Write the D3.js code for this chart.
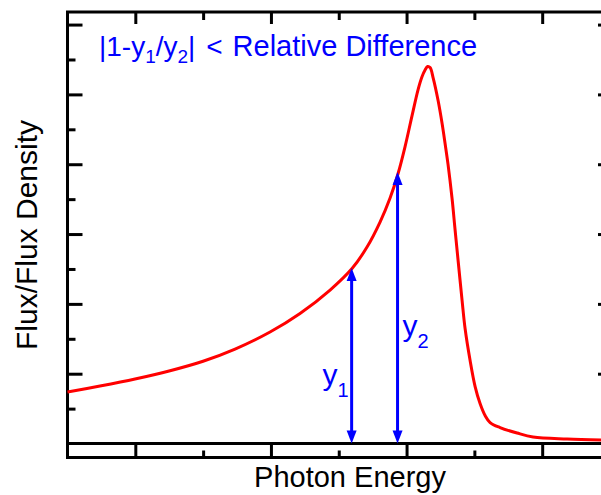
<!DOCTYPE html>
<html>
<head>
<meta charset="utf-8">
<script src="https://cdn.jsdelivr.net/npm/d3@7/dist/d3.min.js"></script>
<style>
    body { margin: 0; background: #fff; }
    svg { display: block; font-family: "Liberation Sans", Arial, sans-serif; }
    .tick line { stroke: #000; stroke-width: 3; }
</style>
</head>
<body>
<div id="chart"></div>
<script>
// red curve (energy in minor-tick units, flux in major-tick units)
const energy = [0.000, 0.479, 0.996, 1.512, 1.999, 2.471, 2.987, 3.429, 3.872, 4.196, 4.417, 4.609,
    4.757, 4.875, 4.978, 5.081, 5.170, 5.229, 5.273, 5.310, 5.347, 5.391, 5.465, 5.524, 5.568, 5.612,
    5.671, 5.715, 5.760, 5.819, 5.863, 5.937, 6.011, 6.084, 6.158, 6.232, 6.379, 6.630, 6.866, 7.367, 7.869];
const flux = [0.738, 0.823, 0.924, 1.043, 1.179, 1.353, 1.597, 1.862, 2.198, 2.506, 2.814, 3.172,
    3.516, 3.867, 4.253, 4.697, 5.069, 5.256, 5.349, 5.399, 5.384, 5.241, 4.912, 4.583, 4.296, 3.995,
    3.509, 3.065, 2.621, 2.048, 1.647, 1.189, 0.816, 0.573, 0.401, 0.301, 0.229, 0.150, 0.093, 0.064, 0.050];

// the two double arrows y1 and y2
const arrowNames = ['1', '2'];
const arrowX = [4.19, 4.867];
const arrowTop = [2.513, 3.888];
const labelX = [3.76, 4.94];
const labelY = [0.84, 1.54];

// tick positions (no tick labels in the original)
const xMajorTicks = [1, 3, 5, 7];
const xMinorTicks = [2, 4, 6];
const yMajorTicks = [1, 2, 3, 4, 5, 6];
const yMinorTicks = [0.5, 1.5, 2.5, 3.5, 4.5, 5.5];

let width = 601,
    height = 495,
    margin = {top: 12, left: 67.5, right: -9, bottom: 37.5},
    xLabelText = 'Photon Energy',
    yLabelText = 'Flux/Flux Density';

let xScale = d3.scaleLinear()
        .domain([0, 8])
        .range([margin.left, width - margin.right]),
    yScale = d3.scaleLinear()
        .domain([-0.2, 6.18])
        .range([height - margin.bottom, margin.top]),
    svg = d3.select('#chart')
        .append('svg')
        .attr('width', width)
        .attr('height', height);

let x0 = xScale.range()[0], x1 = xScale.range()[1],
    yBottom = yScale.range()[0], yTop = yScale.range()[1];

// helper: ticks only, no domain line and no text
function ticks(axis, values, size) {
    return g => {
        g.call(axis.tickValues(values).tickSize(size).tickFormat(''));
        g.select('.domain').remove();
    };
}

// bottom ticks stand up from the frame, majors reach the zero line
svg.append('g').attr('transform', `translate(0,${yBottom})`)
    .call(ticks(d3.axisTop(xScale), xMajorTicks, yBottom - yScale(0)));
svg.append('g').attr('transform', `translate(0,${yBottom})`)
    .call(ticks(d3.axisTop(xScale), xMinorTicks, 7));

// top ticks
svg.append('g').attr('transform', `translate(0,${yTop})`)
    .call(ticks(d3.axisBottom(xScale), xMajorTicks, 12));
svg.append('g').attr('transform', `translate(0,${yTop})`)
    .call(ticks(d3.axisBottom(xScale), xMinorTicks, 8));

// left ticks
svg.append('g').attr('transform', `translate(${x0},0)`)
    .call(ticks(d3.axisRight(yScale), yMajorTicks, 15));
svg.append('g').attr('transform', `translate(${x0},0)`)
    .call(ticks(d3.axisRight(yScale), yMinorTicks, 8));

// right ticks (frame runs off the picture)
svg.append('g').attr('transform', `translate(${x1},0)`)
    .call(ticks(d3.axisLeft(yScale), yMajorTicks, 12));
svg.append('g').attr('transform', `translate(${x1},0)`)
    .call(ticks(d3.axisLeft(yScale), yMinorTicks, 8));

// frame
svg.append('rect')
    .attr('x', x0).attr('y', yTop)
    .attr('width', x1 - x0).attr('height', yBottom - yTop)
    .attr('fill', 'none').attr('stroke', '#000').attr('stroke-width', 3);

// zero line
svg.append('line')
    .attr('x1', x0).attr('x2', x1)
    .attr('y1', yScale(0)).attr('y2', yScale(0))
    .attr('stroke', '#000').attr('stroke-width', 3);

// curve
let line = d3.line()
    .x(i => xScale(energy[i]))
    .y(i => yScale(flux[i]))
    .curve(d3.curveCatmullRom.alpha(0.5));

svg.append('path')
    .attr('d', line(d3.range(energy.length)))
    .attr('fill', 'none')
    .attr('stroke', '#ff0000')
    .attr('stroke-width', 3)
    .attr('stroke-linejoin', 'round');

// arrows
let headLen = 13, headHalf = 5;
arrowNames.forEach((name, i) => {
    let ax = xScale(arrowX[i]),
        yLo = yScale(0),
        yHi = yScale(arrowTop[i]);

    svg.append('line')
        .attr('x1', ax).attr('x2', ax)
        .attr('y1', yLo - headLen + 2).attr('y2', yHi + headLen - 2)
        .attr('stroke', '#0000ff').attr('stroke-width', 3);

    svg.append('path')
        .attr('d', `M${ax},${yHi}L${ax - headHalf},${yHi + headLen}L${ax + headHalf},${yHi + headLen}Z`)
        .attr('fill', '#0000ff');
    svg.append('path')
        .attr('d', `M${ax},${yLo}L${ax - headHalf},${yLo - headLen}L${ax + headHalf},${yLo - headLen}Z`)
        .attr('fill', '#0000ff');

    let lab = svg.append('text')
        .attr('x', xScale(labelX[i]))
        .attr('y', yScale(labelY[i]))
        .attr('fill', '#0000ff')
        .style('font-size', '30px');
    lab.append('tspan').text('y');
    lab.append('tspan').attr('dy', 12).style('font-size', '20px').text(name);
});

// formula
let title = svg.append('text')
    .attr('x', 99)
    .attr('y', 56)
    .attr('fill', '#0000ff')
    .style('font-size', '28px');
title.append('tspan').text('|1-y');
title.append('tspan').attr('dy', 7).style('font-size', '19px').text('1');
title.append('tspan').attr('dy', -7).text('/y');
title.append('tspan').attr('dy', 7).style('font-size', '19px').text('2');
title.append('tspan').attr('dy', -7).text('|');
title.append('tspan').attr('dx', 3).text(' <');
title.append('tspan').attr('dx', 2).style('font-size', '29px').text(' Relative Difference');

// x axis title
svg.append('text')
    .attr('x', 350)
    .attr('y', 487)
    .attr('text-anchor', 'middle')
    .style('font-size', '29px')
    .text(xLabelText);

// y axis title
svg.append('text')
    .attr('transform', 'translate(37,235) rotate(-90)')
    .attr('text-anchor', 'middle')
    .style('font-size', '30px')
    .text(yLabelText);
</script>
</body>
</html>
